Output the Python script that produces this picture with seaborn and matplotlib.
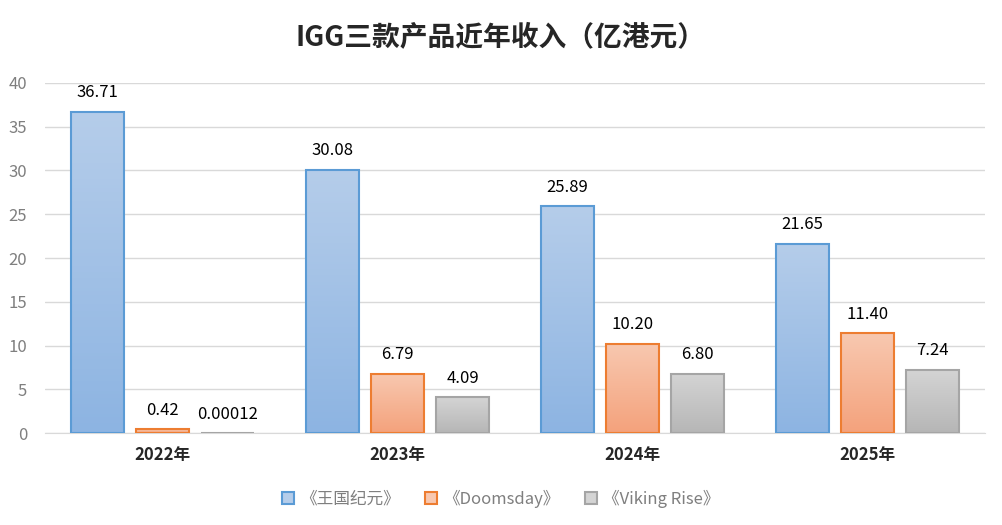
import matplotlib
matplotlib.use('Agg')
import matplotlib.pyplot as plt
import matplotlib.patches as mpatches
from matplotlib.colors import LinearSegmentedColormap
import seaborn as sns
import pandas as pd
import numpy as np

years = ['2022年', '2023年', '2024年', '2025年']
products = ['《王国纪元》', '《Doomsday》', '《Viking Rise》']
kingdom = [36.71, 30.08, 25.89, 21.65]
doomsday = [0.42, 6.79, 10.20, 11.40]
viking = [0.00012, 4.09, 6.80, 7.24]
labels = [['36.71', '30.08', '25.89', '21.65'],
          ['0.42', '6.79', '10.20', '11.40'],
          ['0.00012', '4.09', '6.80', '7.24']]

rows = []
for p, vals in zip(products, [kingdom, doomsday, viking]):
    for y, v in zip(years, vals):
        rows.append({'year': y, 'product': p, 'value': v})
df = pd.DataFrame(rows)

edge_colors = ['#5b9bd5', '#ed7d31', '#a5a5a5']
grad = [('#b5cdea', '#8db4e2'), ('#f8c8b0', '#f4a27c'), ('#d4d4d4', '#b6b6b6')]

sns.set_style('white')
plt.rcParams['font.family'] = ['Noto Sans CJK SC', 'DejaVu Sans']

fig = plt.figure(figsize=(10.02, 5.25), dpi=100)
ax = fig.add_axes([0.045, 0.175, 0.938, 0.667])

sns.barplot(data=df, x='year', y='value', hue='product', order=years,
            hue_order=products, width=0.83, gap=0.185, palette=edge_colors,
            legend=False, ax=ax, zorder=3)

ax.set_ylim(0, 40)
ax.set_xlim(-0.5, 3.5)
ax.set_yticks(range(0, 41, 5))
ax.yaxis.grid(True, color='#d9d9d9', linewidth=1, zorder=0)
ax.set_axisbelow(True)
for s in ['top', 'right', 'left']:
    ax.spines[s].set_visible(False)
ax.spines['bottom'].set_color('#d9d9d9')
ax.tick_params(axis='both', length=0)
ax.tick_params(axis='y', labelsize=12, labelcolor='#7f7f7f', pad=13)
ax.tick_params(axis='x', labelsize=12, pad=9)
for t in ax.get_xticklabels():
    t.set_fontweight('bold')
ax.set_xlabel('')
ax.set_ylabel('')

bars = ax.patches
for i, bar in enumerate(bars):
    k = i // len(years)
    j = i % len(years)
    x0, w = bar.get_x(), bar.get_width()
    h = bar.get_height()
    bar.set_facecolor('none')
    bar.set_edgecolor(edge_colors[k])
    bar.set_linewidth(1.5)
    cmap = LinearSegmentedColormap.from_list('g', [grad[k][1], grad[k][0]])
    top = max(h, 0.02)
    img = ax.imshow(np.linspace(0, 1, 100).reshape(-1, 1), cmap=cmap,
                    extent=[x0, x0 + w, 0, top], origin='lower',
                    aspect='auto', zorder=2.5)
    img.set_clip_path(bar)
    ax.text(x0 + w / 2, h + 1.2, labels[k][j], ha='center', va='bottom',
            fontsize=12, color='#000000')
ax.set_xlim(-0.5, 3.5)
ax.set_ylim(0, 40)

fig.suptitle('IGG三款产品近年收入（亿港元）', fontsize=20, fontweight='bold',
             y=0.955)

handles = [mpatches.Patch(facecolor=grad[k][0], edgecolor=edge_colors[k],
                          linewidth=1.5, label=products[k]) for k in range(3)]
leg = fig.legend(handles=handles, loc='center', bbox_to_anchor=(0.5, 0.05),
                 ncol=3, frameon=False, fontsize=12, handlelength=0.7,
                 handleheight=0.7, columnspacing=1.5, handletextpad=0.4)
for t in leg.get_texts():
    t.set_color('#7f7f7f')

fig.savefig('out.png', dpi=100)
